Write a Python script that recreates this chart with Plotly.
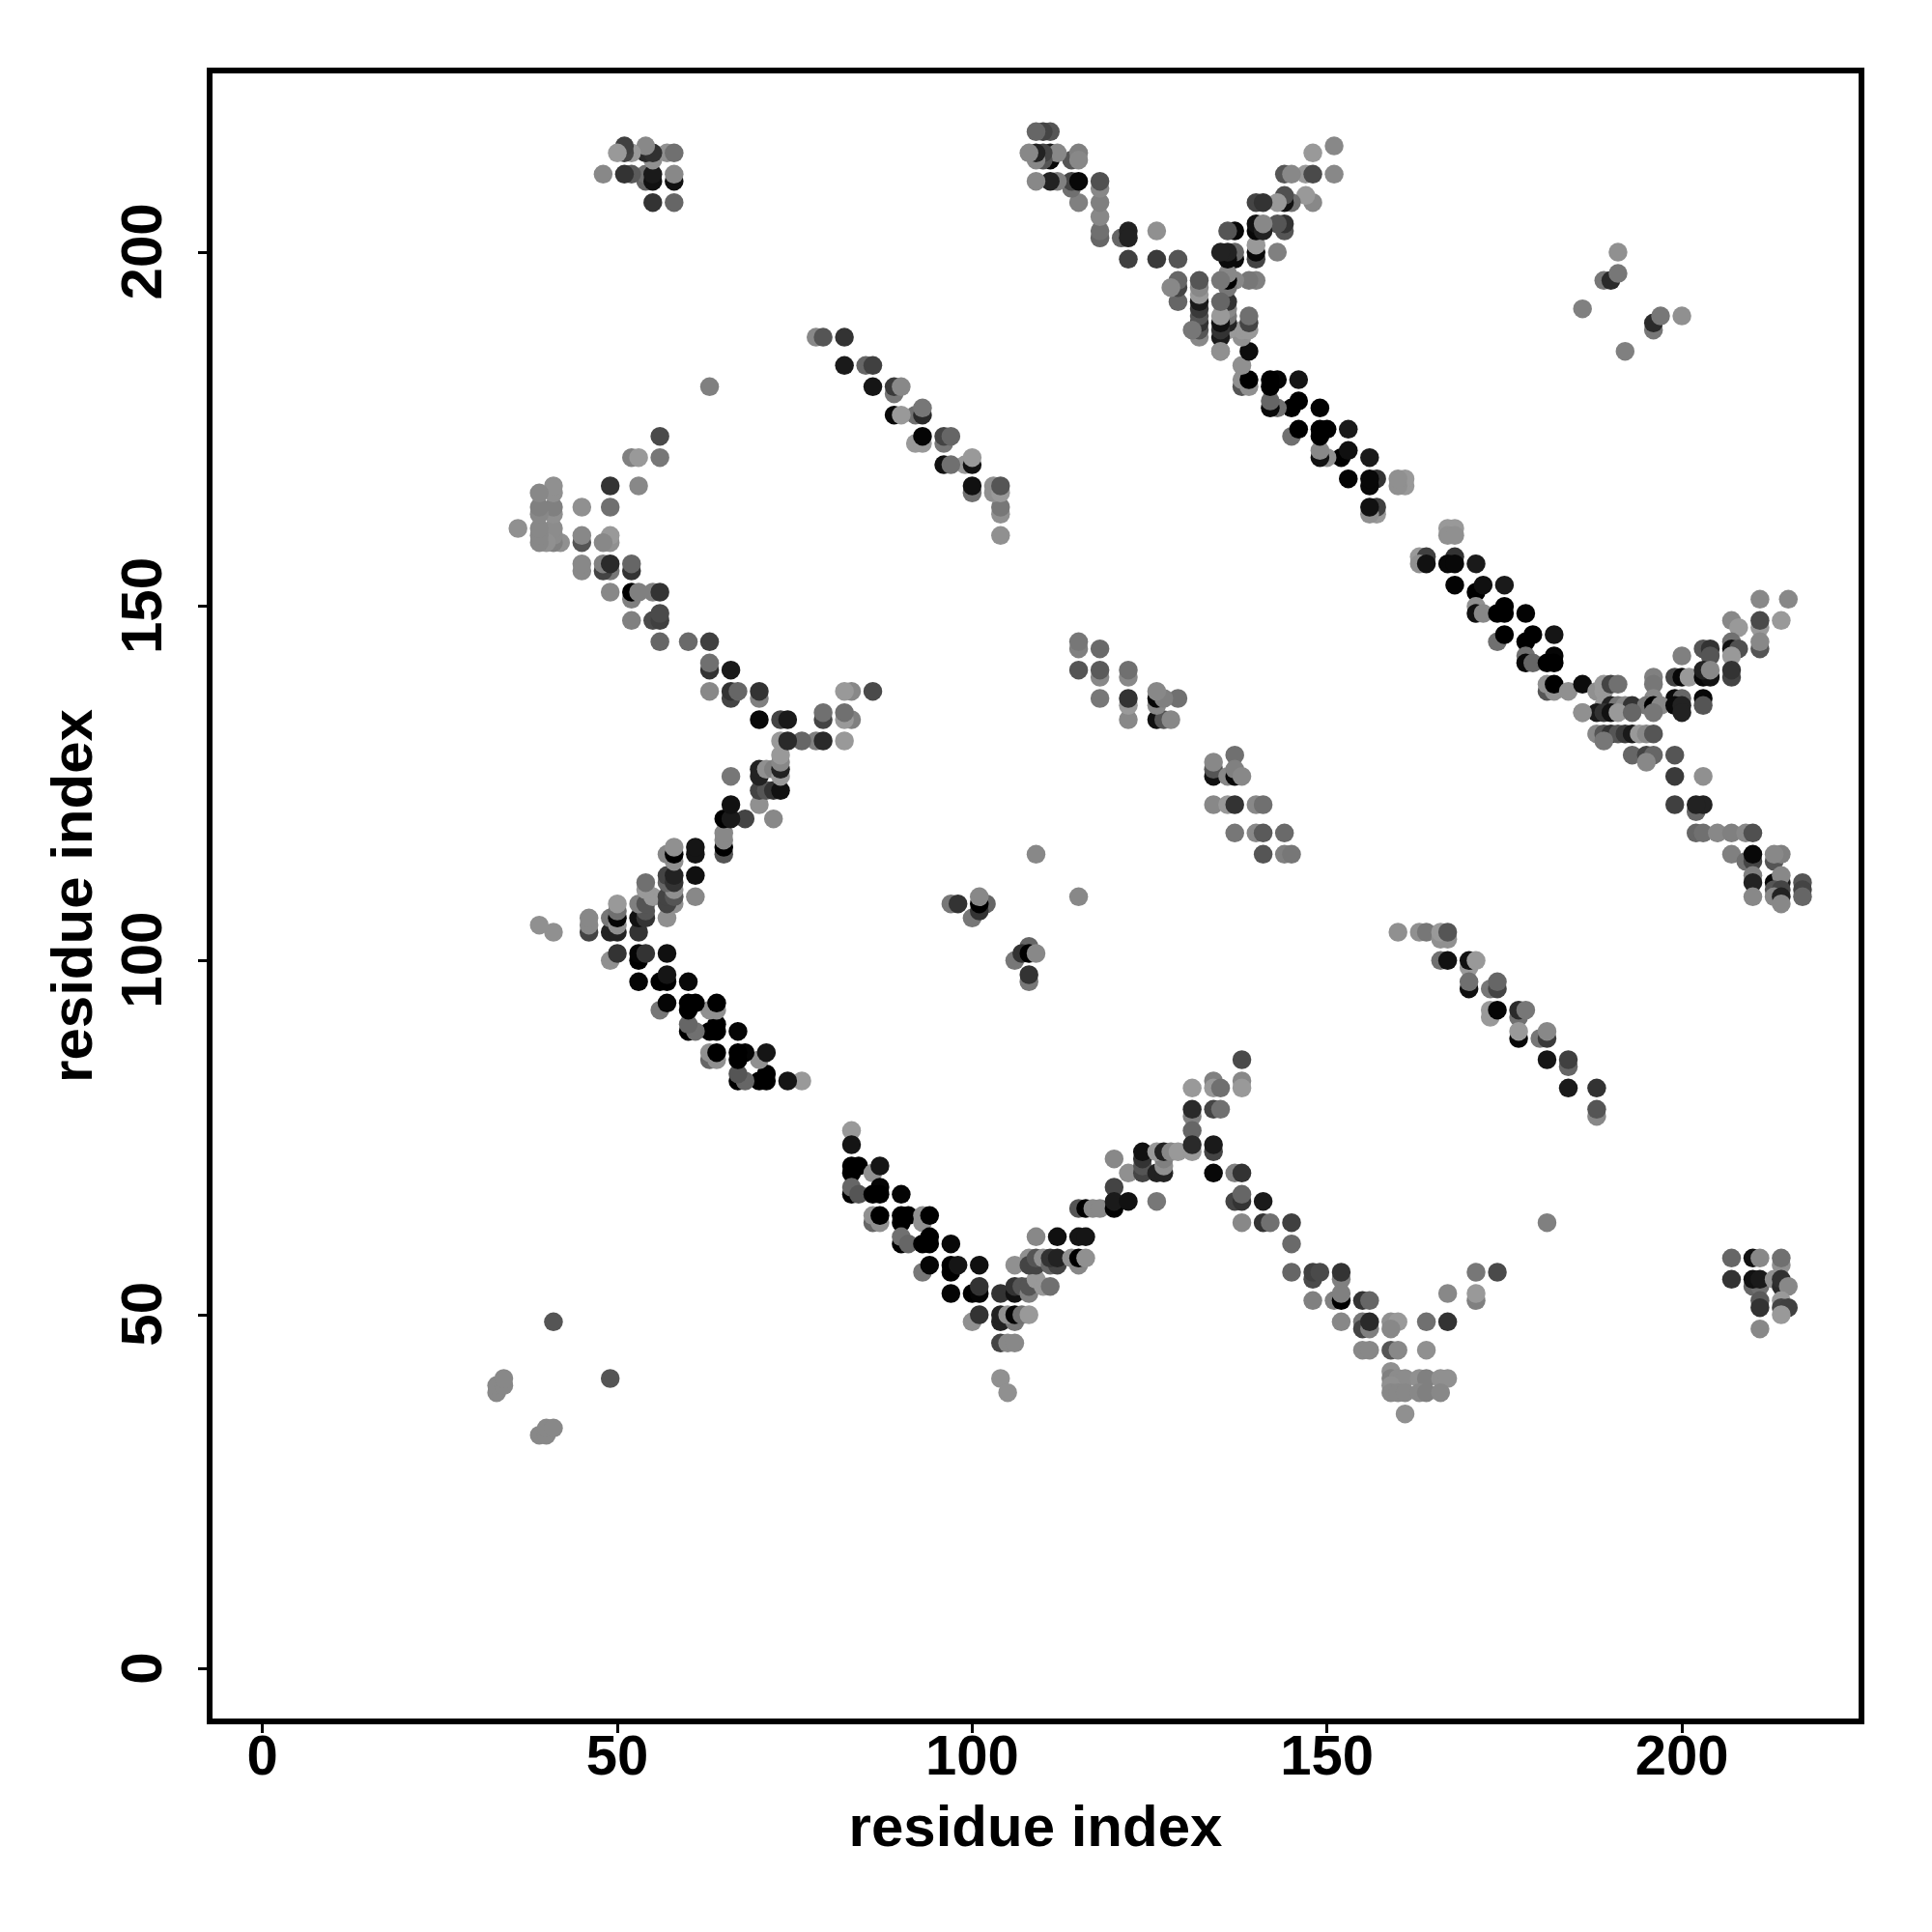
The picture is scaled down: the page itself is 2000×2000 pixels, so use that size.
import plotly.graph_objects as go

# Contacts of the lower triangle (residue i > residue j); the map is symmetric.
# Each group: residue i, residue j, grey level of the dot.
desc_i = [83,83,83,83,84,86,87,83,83,84,87,86,87,90,86,87,86,87,90,90,91,93,93,94,90,90,91,93,94,94,97,93,94,97,97,98,101,97,100,101,101,100,101,104,104,104,106,105,106,107,108,106,106,107,108,108,109,110,111,104,105,106,104,105]
desc_j = [76,74,70,71,71,70,71,67,68,67,68,67,67,67,63,63,64,64,63,64,64,63,64,64,60,61,60,60,60,61,60,56,57,56,57,57,57,53,53,53,54,49,50,53,49,50,49,50,50,50,50,53,54,54,53,54,55,54,54,46,46,46,41,39]
desc_g = [0x99,0x15,0,0,0,0x90,0x15,0,0x66,0x55,5,0,0,5,0x66,0x90,0x90,0,0,0,0,0x90,0x90,0,0,0x70,0x66,0,0,0,8,0x77,5,0,0,0x15,0x10,5,0,5,0x33,0x90,0x33,0x33,0x22,0x22,0x77,0x90,5,0x70,0x99,0x11,0x33,0x55,0x80,0x55,0x99,0x99,0x70,0x44,0x88,0x88,0x90,0x90]

rise_i = [106,108,108,109,109,110,111,112,111,112,114,115,115,116,109,112,115,116,115,116,117,118,120,120,120,122,126,120,122,124,124,124,124,126,127,127,127,126,127,128,129]
rise_j = [57,58,57,57,58,58,57,57,58,58,58,57,58,58,61,61,61,61,65,65,65,65,68,65,66,66,66,72,70,70,71,72,73,70,70,71,72,73,73,73,73]
rise_g = [0x90,0x90,0x44,0x44,0x55,0x90,0x66,0x44,0x33,0x22,0x90,0x88,0,0x90,0x88,0x10,0x15,0x15,0x55,0,0x88,0x88,0x44,0,0x1a,0x11,0x77,0x88,0x90,0x44,0x55,0x33,0x11,0x22,0x22,0x90,0x80,0x99,0x22,0x88,0x99]

fall_i = [138,131,134,134,135,138,138,131,131,131,131,131,134,135,134,134,134,137,138,137,138,138,141,138,141,142,145,145,145,148,148,149,152,152,148,151,152,152,155,156,152,155,155,156,156,159,160,159,164,167,155,156,159,160,164]
fall_j = [86,82,83,82,82,83,82,78,79,76,73,74,79,79,73,74,70,70,70,66,66,67,66,63,63,63,63,60,56,55,56,56,55,56,52,52,52,53,52,52,49,49,48,48,49,49,49,48,49,49,45,45,45,45,45]
fall_g = [0x4a,0x99,0x80,0x99,0x70,0x88,0x99,0x80,0x2a,0x66,0x99,0x2a,0x44,0x70,0x44,0x1a,8,0x80,0x33,0x44,0x33,0x66,0x1a,0x88,0x33,0x70,0x40,0x6a,0x66,0x4a,0x40,0x4a,0x80,0x33,0x80,0x80,0,0x80,0x33,0x66,0x88,0x77,0x44,0x80,0x2a,0x90,0x99,0x88,0x70,0x33,0x88,0x88,0x55,0x88,0x90]

patch_i = [159,159,160,161,163,164,166,167,159,159,160,161,163,164,166,161,171,174,167,171,171,181]
patch_j = [42,41,41,41,41,41,41,41,40,39,39,39,39,39,39,36,56,56,53,52,53,63]
patch_g = [0x90,0x80,0x8c,0x8c,0x90,0x80,0x90,0x90,0x90,0x88,0x88,0x88,0x88,0x80,0x88,0x90,0x77,0x4a,0x88,0x80,0x99,0x80]

strand_i = [160,163,164,166,167,166,167,166,167,170,170,171,170,170,173,174,174,173,173,174,177,177,178,177,177,180,181,181,181,184,184,184,188,188,188]
strand_j = [104,104,104,103,103,104,104,100,100,99,100,100,96,97,96,96,97,92,93,93,92,93,93,89,90,89,89,90,86,85,86,82,82,78,79]
strand_g = [0x90,0x90,0x77,0x90,0x90,0x99,0x55,0x70,0x11,0x99,0x11,0x99,0x10,0x70,0x77,0x44,0x66,0x99,0x99,5,0x70,0x2a,0x77,8,0x99,0x77,0x3a,0x88,0x15,0x66,0x40,0x1a,0x33,0x88,0x55]

mid_i = [115,106,108,107,108,109,108,108,134,134,134,137,136,137,137,138,134,136,137,140,141,137,140,141,144,141,144,145]
mid_j = [109,100,102,101,101,101,97,98,126,127,128,129,126,126,127,126,122,122,122,122,122,118,118,118,118,115,115,115]
mid_g = [0x88,0x77,0x66,0x33,0,0x88,0x77,0x33,0x11,0x55,0x88,0x70,0x88,8,0x80,0x88,0x88,0x99,0x33,0x88,0x70,0x77,0x88,0x5a,0x6a,0x55,0x80,0x77]

band_i = [167,168,167,168,163,164,168,163,164,167,168,171,168,171,172,175,171,171,172,175,174,175,178,174,175,178,179,182,178,182,178,179,181,182,181,182,181,182,184,186,188,189,189,190,191]
band_j = [161,161,160,160,157,157,157,156,156,156,156,156,153,152,153,153,150,149,149,150,149,149,149,145,146,145,146,146,143,143,142,142,142,142,138,138,139,139,138,139,138,138,139,139,139]
band_g = [0x99,0x99,0x90,0x90,0x99,0x40,0x33,0x90,0x11,8,8,0x1a,3,0,0x10,0x1a,0x90,0x11,0x88,0,0,0,3,0x70,0,0,0,0x15,0x70,5,8,0x66,0,0,0x55,0x90,0x90,0,0x90,0x0c,0x90,0x99,0x99,0x44,0x70]

arm_i = [211,215,207,211,214,208,211,207,211,211,207,208,207,200,203,204,204,196,199,200,201,203,204,203,204,207,207,196,196,199,200,203]
arm_j = [151,151,148,147,148,147,148,145,144,145,144,144,143,143,144,144,143,140,140,140,140,140,140,141,141,140,141,139,137,137,137,137]
arm_g = [0x88,0x88,0x88,0x99,0x99,0x99,0x4a,0x70,0x55,0x88,0x11,0x50,0x99,0x80,0x55,0x33,0x55,0x80,0x44,8,0x99,8,0x11,0x22,0x88,0x44,0x33,0x77,0x88,0x0a,0x66,8]

core_i = [186,189,190,191,192,193,195,196,197,199,200,203,188,189,190,191,193,196,200,186,188,189,190,191,192,193,194,195,196,189,193,195,196,195,199,199,203,199,202,203,202,202,203,205,207,209,210]
core_j = [135,136,136,136,136,136,136,136,136,136,136,136,135,135,135,135,135,135,135,135,132,132,132,132,132,132,132,132,132,131,129,129,129,128,129,126,126,122,121,122,122,118,118,118,118,118,118]
core_g = [0x90,0x99,0x22,0x77,0x88,0x33,0x77,0,0x88,0x0a,0x22,0x55,0x1a,0x33,0x11,0x99,0x66,0x77,0x22,0x90,0x88,0x55,0x33,0x55,0x3a,0x1a,0x99,0x88,0x55,0x77,0x66,0x44,0x66,0x88,0x55,0x3a,0x90,0x40,0x66,0x22,0x22,0x66,0x70,0x88,0x80,0x88,0x50]

tail_i = [207,209,210,210,213,214,213,210,210,213,214,214,217,213,214,217,210,213,214,217,214]
tail_j = [115,114,114,115,114,115,115,112,111,111,111,112,111,110,110,110,109,109,109,109,108]
tail_g = [0x80,0x70,0x44,8,0x55,0x80,0x88,0x80,0x22,0x0a,0x1a,0x88,0x55,0x55,0x44,0x44,0x88,0x88,0x22,0x66,0x88]

corner_i = [207,207,210,211,214,214,210,211,210,211,213,214,214,215,211,211,214,214,215,214,211]
corner_j = [58,55,58,58,57,58,54,54,55,55,55,54,55,54,52,51,52,51,51,50,48]
corner_g = [0x66,0x33,0x11,0x88,0x90,0x70,0x66,0x70,0x11,0x1a,0x90,0x2a,0x30,0x88,0x5a,0x33,0x99,0x44,0x40,0x99,0x88]

near_i = [39,40,40,41,49,200,196,196,197,192]
near_j = [33,33,34,34,41,191,189,190,191,186]
near_g = [0x88,0x88,0x88,0x88,0x55,0x90,0x77,0x2a,0x77,0x80]

groups = [(near_i, near_j, near_g), (desc_i, desc_j, desc_g), (rise_i, rise_j, rise_g),
          (fall_i, fall_j, fall_g), (patch_i, patch_j, patch_g), (strand_i, strand_j, strand_g),
          (mid_i, mid_j, mid_g), (band_i, band_j, band_g), (arm_i, arm_j, arm_g),
          (core_i, core_j, core_g), (tail_i, tail_j, tail_g), (corner_i, corner_j, corner_g)]

xs, ys, cols = [], [], []
for k, (a, b, c) in enumerate(groups):
    n = min(len(a), len(b), len(c))
    if not (len(a) == len(b) == len(c)):
        print("length mismatch", k, len(a), len(b), len(c))
    xs += a[:n] + b[:n]
    ys += b[:n] + a[:n]
    cols += [f"rgb({v},{v},{v})" for v in c[:n]] * 2

tick_vals = [0, 50, 100, 150, 200]
axis_title = "residue index"
FONT = "Liberation Sans"

fig = go.Figure(go.Scatter(x=xs, y=ys, mode="markers",
                           marker=dict(size=19.5, color=cols, line=dict(width=0)),
                           showlegend=False, hoverinfo="skip"))
common = dict(showgrid=False, zeroline=False, showline=True, mirror=True, linewidth=6, linecolor="black",
              ticks="outside", ticklen=9, tickwidth=3, tickcolor="black", tickvals=tick_vals)
title_font = dict(family=FONT, size=60, color="black", weight=700)
fig.update_xaxes(range=[-7.04, 224.9], ticklabelstandoff=-27,
                 ticktext=[str(v) for v in tick_vals],
                 tickfont=dict(family=FONT, size=58, color="black", weight=700),
                 title=dict(text=axis_title, font=title_font, standoff=23),
                 **common)
fig.update_yaxes(range=[-7.0, 225.23], tickangle=-90, ticklabelstandoff=14,
                 ticktext=[str(v) + "\u00a0" for v in tick_vals],
                 tickfont=dict(family=FONT, size=60, color="black", weight=700),
                 title=dict(text=axis_title, font=title_font, standoff=0),
                 **common)
fig.update_layout(width=2000, height=2000, autosize=False, paper_bgcolor="white", plot_bgcolor="white",
                  margin=dict(l=220, r=76, t=75.7, b=221))
fig.write_html("out.html", config=dict(displayModeBar=False), post_script="document.body.style.margin='0';")
